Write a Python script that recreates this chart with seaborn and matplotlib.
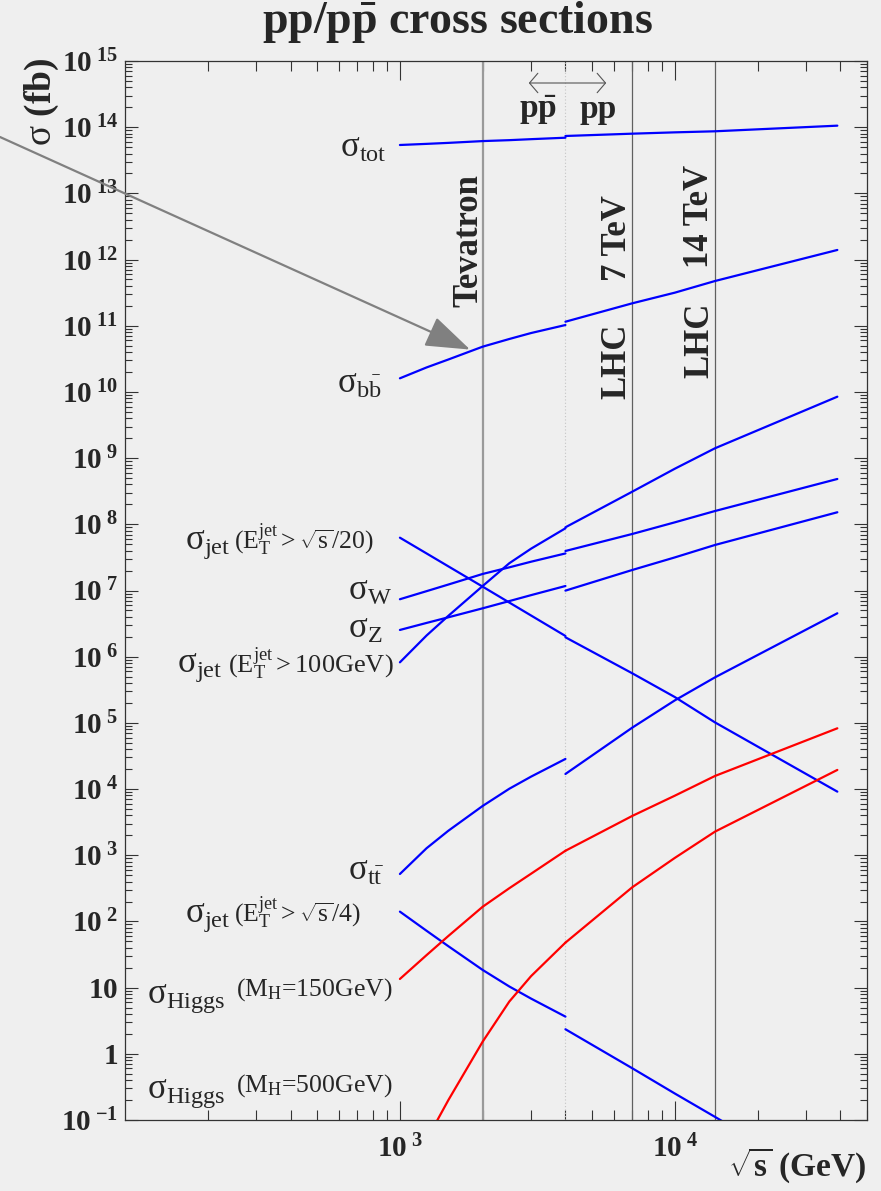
import numpy as np
import pandas as pd
import matplotlib
matplotlib.use("Agg")
import matplotlib.pyplot as plt
import seaborn as sns
from matplotlib.ticker import LogLocator, FuncFormatter, NullFormatter, FixedLocator

# ---------------- data (log10 of sigma in fb) ----------------
E_ppbar = [1000, 1250, 1500, 2000, 2500, 3000, 4000]   # sqrt(s) in GeV, p-pbar branch
E_pp = [4000, 7000, 10000, 14000, 39000]               # sqrt(s) in GeV, p-p branch

tot_ppbar = [13.731, 13.748, 13.763, 13.79, 13.804, 13.819, 13.841]
tot_pp = [13.867, 13.902, 13.922, 13.938, 14.023]
bb_ppbar = [10.206, 10.37, 10.49, 10.684, 10.80, 10.89, 11.011]
bb_pp = [11.061, 11.339, 11.50, 11.676, 12.145]
jet20_ppbar = [7.798, 7.56, 7.365, 7.058, 6.818, 6.622, 6.313]
jet20_pp = [6.293, 5.749, 5.39, 5.007, 3.961]
W_ppbar = [6.868, 6.99, 7.09, 7.25, 7.35, 7.435, 7.56]
W_pp = [7.597, 7.854, 8.03, 8.201, 8.685]
Z_ppbar = [6.404, 6.51, 6.595, 6.731, 6.84, 6.93, 7.068]
Z_pp = [6.998, 7.31, 7.50, 7.688, 8.182]
jet100_ppbar = [5.915, 6.32, 6.617, 7.068, 7.412, 7.632, 7.94]
jet100_pp = [7.955, 8.493, 8.84, 9.149, 9.928]
tt_ppbar = [2.717, 3.106, 3.37, 3.745, 4.005, 4.188, 4.455]
tt_pp = [4.228, 4.928, 5.34, 5.688, 6.656]
jet4_ppbar = [2.148, 1.859, 1.626, 1.267, 1.017, 0.834, 0.562]
jet4_pp = [0.371, -0.218, -0.60, -0.953, -2.04]
h150_ppbar = [1.131, 1.491, 1.78, 2.222, 2.502, 2.721, 3.068]
h150_pp = [3.068, 3.594, 3.90, 4.198, 4.918]
h500_ppbar = [-2.1, -1.30, -0.70, 0.184, 0.79, 1.174, 1.68]
h500_pp = [1.68, 2.516, 2.96, 3.357, 4.289]

blue_curves = [(tot_ppbar, tot_pp), (bb_ppbar, bb_pp), (jet20_ppbar, jet20_pp),
               (W_ppbar, W_pp), (Z_ppbar, Z_pp), (jet100_ppbar, jet100_pp),
               (tt_ppbar, tt_pp), (jet4_ppbar, jet4_pp)]
red_curves = [(h150_ppbar, h150_pp), (h500_ppbar, h500_pp)]

E_tevatron = 2000
E_lhc7 = 7000
E_lhc14 = 14000
E_switch = 4000

x_major = [1e3, 1e4]
y_major_exponents = list(range(-1, 16))

# ---------------- style ----------------
sns.set_style("ticks")
BG = "#efefef"
plt.rcParams["font.family"] = ["Liberation Serif", "DejaVu Serif"]
plt.rcParams["mathtext.fontset"] = "custom"
plt.rcParams["mathtext.rm"] = "Liberation Serif"
plt.rcParams["mathtext.bf"] = "Liberation Serif:bold"
plt.rcParams["mathtext.it"] = "Liberation Serif:italic"
plt.rcParams["mathtext.default"] = "regular"

W_PX, H_PX = 881, 1191
fig = plt.figure(figsize=(W_PX / 100, H_PX / 100), dpi=100, facecolor=BG)
L, R, T, B = 125, 867, 61, 1120
ax = fig.add_axes([L / W_PX, 1 - B / H_PX, (R - L) / W_PX, (B - T) / H_PX])
ax.set_facecolor(BG)


def P(x, y):
    return (x / W_PX, 1 - y / H_PX)


# vertical reference lines
ax.axvline(E_tevatron, color="#9a9a9a", lw=1.6, zorder=1)
ax.axvline(E_lhc7, color="#606060", lw=0.9, zorder=1)
ax.axvline(E_lhc14, color="#606060", lw=0.9, zorder=1)
ax.axvline(E_switch, color="#c4c4c4", lw=0.8, ls=(0, (1, 2)), zorder=1)

# curves
for color, curves in (("#0000ff", blue_curves), ("#ff0000", red_curves)):
    for seg_a, seg_b in curves:
        for E, logs in ((E_ppbar, seg_a), (E_pp, seg_b)):
            df = pd.DataFrame({"E": E, "sigma": 10.0 ** np.array(logs)})
            sns.lineplot(data=df, x="E", y="sigma", ax=ax, color=color, lw=1.6,
                         estimator=None, sort=False, legend=False, zorder=3)

ax.set_xscale("log")
ax.set_yscale("log")
ax.set_xlim(100, 50000)
ax.set_ylim(1e-1, 1e15)
ax.xaxis.label.set_visible(False)
ax.yaxis.label.set_visible(False)

# ticks
ax.xaxis.set_major_locator(FixedLocator(x_major))
ax.xaxis.set_minor_locator(LogLocator(base=10, subs=np.arange(2, 10), numticks=100))
ax.yaxis.set_major_locator(FixedLocator([10.0 ** e for e in y_major_exponents]))
ax.yaxis.set_minor_locator(LogLocator(base=10, subs=np.arange(2, 10), numticks=100))
ax.xaxis.set_minor_formatter(NullFormatter())
ax.yaxis.set_minor_formatter(NullFormatter())


def xfmt(v, pos):
    e = int(round(np.log10(v)))
    return r"$\mathbf{10}^{\ \mathbf{%d}}$" % e


def yfmt(v, pos):
    e = int(round(np.log10(v)))
    if e == 0:
        return r"$\mathbf{1}$"
    if e == 1:
        return r"$\mathbf{10}$"
    return r"$\mathbf{10}^{\ \mathbf{%d}}$" % e


ax.xaxis.set_major_formatter(FuncFormatter(xfmt))
ax.yaxis.set_major_formatter(FuncFormatter(yfmt))
ax.tick_params(axis="both", which="both", direction="in", top=True, right=True,
               color="#333333")
ax.tick_params(axis="x", which="major", length=14, width=0.8, labelsize=21, pad=11)
ax.tick_params(axis="x", which="minor", length=7, width=0.8)
ax.tick_params(axis="y", which="major", length=9.5, width=0.8, labelsize=21, pad=5)
ax.tick_params(axis="y", which="minor", length=5, width=0.8)
for s in ax.spines.values():
    s.set_color("#333333")
    s.set_linewidth(0.9)

# axis titles
fig.text(*P(42, 102), r"σ $\mathbf{(fb)}$", rotation=90, ha="center", va="center",
         fontsize=27)
fig.text(*P(797, 1165), r"$\sqrt{\mathbf{s}}$ (GeV)", ha="center", va="center",
         fontsize=24, fontweight="bold")
fig.text(*P(457, 22), r"pp/p$\bar{\mathbf{p}}$ cross sections", ha="center",
         va="center", fontsize=33, fontweight="bold")

# collider labels
for x, y, s in ((469, 241, "Tevatron"), (617, 238, "7 TeV"), (617, 361, "LHC"),
                (700, 216, "14 TeV"), (700, 340, "LHC")):
    fig.text(*P(x, y), s, rotation=90, ha="center", va="center", fontsize=25,
             fontweight="bold")

fig.text(*P(538, 118), r"p$\bar{\mathbf{p}}$", ha="center", va="baseline",
         fontsize=24, fontweight="bold")
fig.text(*P(598, 118), "pp", ha="center", va="baseline", fontsize=24,
         fontweight="bold")
ax.annotate("", xy=P(526, 83), xytext=P(609, 83), xycoords="figure fraction",
            textcoords="figure fraction",
            arrowprops=dict(arrowstyle="<->,head_length=0.3,head_width=0.35",
                            color="#555555", lw=0.8, mutation_scale=20))

# big grey arrow
ax.annotate("", xy=(1800, 10 ** 10.64), xycoords="data", xytext=P(0, 137),
            textcoords="figure fraction",
            arrowprops=dict(arrowstyle="-|>,head_length=2.0,head_width=0.7",
                            color="#808080", lw=1.6, mutation_scale=14,
                            shrinkA=0, shrinkB=0), annotation_clip=False)

# curve labels (sigma part)
main_labels = [
    (340, 157, r"$\mathrm{\sigma}_{tot}$"),
    (337, 393, r"$\mathrm{\sigma}_{b\bar{b}}$"),
    (185, 549, r"$\mathrm{\sigma}_{jet}$"),
    (348, 600, r"$\mathrm{\sigma}_{W}$"),
    (348, 638, r"$\mathrm{\sigma}_{Z}$"),
    (177, 672, r"$\mathrm{\sigma}_{jet}$"),
    (348, 880, r"$\mathrm{\sigma}_{t\bar{t}}$"),
    (185, 922, r"$\mathrm{\sigma}_{jet}$"),
    (147, 1003, r"$\mathrm{\sigma}_{Higgs}$"),
    (147, 1098, r"$\mathrm{\sigma}_{Higgs}$"),
]
for x, y, s in main_labels:
    fig.text(*P(x, y), s, ha="left", va="baseline", fontsize=25)

paren_labels = [
    (234, 549, r"$(E_{T}^{jet} > \sqrt{s}/20)$", 18.5),
    (228, 673, r"$(E_{T}^{jet} > 100GeV)$", 19),
    (234, 922, r"$(E_{T}^{jet} > \sqrt{s}/4)$", 18.5),
    (236, 996, r"$(M_{H}$=150GeV)", 18.5),
    (236, 1092, r"$(M_{H}$=500GeV)", 18.5),
]
for x, y, s, fs in paren_labels:
    fig.text(*P(x, y), s, ha="left", va="baseline", fontsize=fs)

fig.savefig("out.png", dpi=100, facecolor=BG)
